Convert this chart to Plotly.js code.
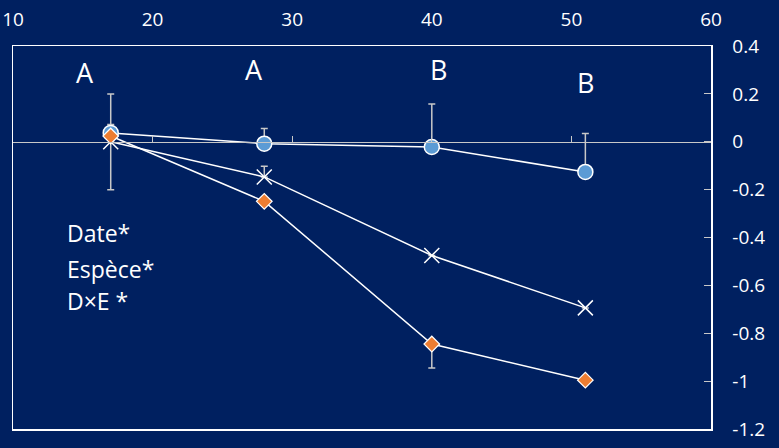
<!DOCTYPE html>
<html>
<head>
<meta charset="utf-8">
<script src="https://cdn.plot.ly/plotly-3.0.1.min.js"></script>
<style>html,body{margin:0;padding:0;background:#002060;}</style>
</head>
<body>
<div id="chart" style="width:779px;height:448px;"></div>
<script>
// Data
const xDays = [17, 28, 40, 51];
const circleVals = [0.037, -0.008, -0.022, -0.126];
const circleErrPlus = [0.035, 0.063, 0.18, 0.16];
const crossVals = [0.0, -0.147, -0.475, -0.694];
const crossErrPlus = [0.2, 0.045, 0, 0];
const crossErrMinus = [0.2, 0, 0, 0];
const diamondVals = [0.024, -0.249, -0.845, -0.996];
const diamondErrMinus = [0, 0, 0.10, 0];
const groupLetters = ['A', 'A', 'B', 'B'];
const statLines = ['Date*', 'Espèce*', 'D×E *'];
const xTickVals = [10, 20, 30, 40, 50, 60];
const yTickVals = [0.4, 0.2, 0, -0.2, -0.4, -0.6, -0.8, -1, -1.2];
const yTickText = ['0.4', '0.2', '0', '-0.2', '-0.4', '-0.6', '-0.8', '-1', '-1.2'];
const zeroTickVals = [20, 30, 40, 50];

const FONT = 'Open Sans, Noto Sans, sans-serif';
const ERRC = '#c8c8c8';

const traces = [
  {x: [], y: [], xaxis: 'x2', yaxis: 'y', type: 'scatter', showlegend: false, hoverinfo: 'skip'},
  {
    x: xDays, y: crossVals, type: 'scatter', mode: 'lines+markers', name: 'Série 2',
    line: {color: '#ffffff', width: 1.5},
    marker: {symbol: 'x-thin', size: 15, line: {color: '#ffffff', width: 1.5}, color: '#ffffff'},
    error_y: {type: 'data', symmetric: false, array: crossErrPlus, arrayminus: crossErrMinus, color: ERRC, thickness: 1.5, width: 3.5}
  },
  {
    x: xDays, y: circleVals, type: 'scatter', mode: 'lines+markers', name: 'Série 1',
    line: {color: '#ffffff', width: 1.5},
    marker: {symbol: 'circle', size: 15, color: '#5b9bd5', line: {color: '#ffffff', width: 1.5}},
    error_y: {type: 'data', symmetric: false, array: circleErrPlus, arrayminus: [0, 0, 0, 0], color: ERRC, thickness: 1.5, width: 3.5}
  },
  {
    x: xDays, y: diamondVals, type: 'scatter', mode: 'lines+markers', name: 'Série 3',
    line: {color: '#ffffff', width: 1.5},
    marker: {symbol: 'diamond', size: 12, color: '#ed7d31', line: {color: '#ffffff', width: 1.2}},
    error_y: {type: 'data', symmetric: false, array: [0, 0, 0, 0], arrayminus: diamondErrMinus, color: ERRC, thickness: 1.5, width: 3.5}
  }
];

const letterPos = [[15.16, 0.289], [27.26, 0.302], [40.5, 0.302], [51.0, 0.247]];
const annotations = groupLetters.map((t, i) => ({
  x: letterPos[i][0], y: letterPos[i][1], xref: 'x', yref: 'y', text: t, showarrow: false,
  xanchor: 'center', yanchor: 'middle', font: {family: FONT, size: 27, color: '#ffffff'}
}));
const statY = [-0.383, -0.530, -0.664];
statLines.forEach((t, i) => annotations.push({
  x: 13.72, y: statY[i], xref: 'x', yref: 'y', text: t, showarrow: false,
  xanchor: 'left', yanchor: 'middle', font: {family: FONT, size: 23, color: '#ffffff'}
}));

const layout = {
  width: 779, height: 448,
  margin: {l: 13, r: 68, t: 46, b: 19, pad: 0},
  paper_bgcolor: '#002060', plot_bgcolor: '#002060',
  showlegend: false,
  font: {family: FONT, color: '#ffffff'},
  xaxis: {
    range: [10, 60], side: 'top', tickvals: xTickVals, ticks: '',
    showline: true, mirror: true, linecolor: '#ffffff', linewidth: 1.5,
    showgrid: false, zeroline: false,
    tickfont: {family: FONT, size: 19, color: '#ffffff'}, ticklabelstandoff: 11
  },
  xaxis2: {
    overlaying: 'x', anchor: 'free', position: 0.75, side: 'top',
    range: [10, 60], tickvals: zeroTickVals, ticks: 'outside', ticklen: 6, tickwidth: 1.2, tickcolor: ERRC,
    showticklabels: false, showline: true, linecolor: ERRC, linewidth: 1.5,
    showgrid: false, zeroline: false
  },
  yaxis: {
    range: [-1.2, 0.4], side: 'right', tickvals: yTickVals, ticktext: yTickText,
    ticks: 'inside', ticklen: 7, tickwidth: 1.2, tickcolor: ERRC,
    showline: true, mirror: true, linecolor: '#ffffff', linewidth: 1.5,
    showgrid: false, zeroline: false,
    tickfont: {family: FONT, size: 19, color: '#ffffff'}, ticklabelstandoff: 16
  },
  annotations: annotations
};

Plotly.newPlot('chart', traces, layout, {displayModeBar: false, staticPlot: true});
</script>
</body>
</html>
